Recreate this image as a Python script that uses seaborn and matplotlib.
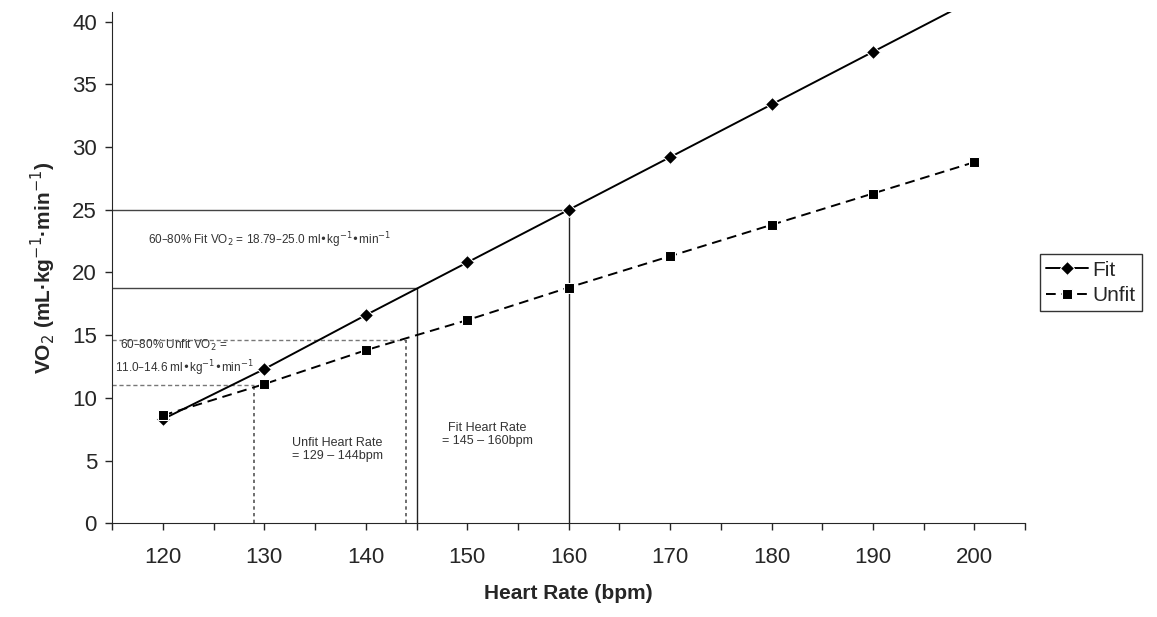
import pandas as pd
import numpy as np
import matplotlib
matplotlib.use('Agg')
import matplotlib.pyplot as plt
import seaborn as sns
from matplotlib.ticker import MultipleLocator

# values
heart_rate = [120, 130, 140, 150, 160, 170, 180, 190, 200]
vo2_fit = [8.3, 12.3, 16.6, 20.8, 25.0, 29.2, 33.4, 37.6, 41.8]
vo2_unfit = [8.6, 11.1, 13.8, 16.2, 18.8, 21.3, 23.8, 26.3, 28.8]

# training zones (60-80%)
fit_hr = [145, 160]
fit_vo2 = [18.79, 25.0]
unfit_hr = [129, 144]
unfit_vo2 = [11.0, 14.6]

df = pd.DataFrame({
    'Heart Rate': heart_rate * 2,
    'VO2': vo2_fit + vo2_unfit,
    'Group': ['Fit'] * len(heart_rate) + ['Unfit'] * len(heart_rate),
})

sns.set_style('ticks')
plt.rcParams['font.family'] = ['Liberation Sans', 'DejaVu Sans']

fig = plt.figure(figsize=(11.57, 6.17), dpi=100)
ax = fig.add_axes([0.097, 0.152, 0.789, 0.829])

sns.lineplot(data=df, x='Heart Rate', y='VO2', hue='Group', style='Group',
             palette={'Fit': 'black', 'Unfit': 'black'},
             dashes={'Fit': '', 'Unfit': (5, 3)},
             markers={'Fit': 'D', 'Unfit': 's'},
             markersize=7, linewidth=1.4, ax=ax, zorder=3)

# fit zone guides (solid)
for hr, v in zip(fit_hr, fit_vo2):
    ax.plot([115, hr], [v, v], color='#444444', lw=1.0, zorder=2)
    ax.plot([hr, hr], [0, v], color='#222222', lw=1.0, zorder=2)
# unfit zone guides (dashed)
for hr, v in zip(unfit_hr, unfit_vo2):
    ax.plot([115, hr], [v, v], color='#777777', lw=1.0, ls=(0, (3, 2)), zorder=2)
    ax.plot([hr, hr], [0, v], color='#555555', lw=1.2, ls=(0, (2, 2)), zorder=2)

ax.text(118.5, 22.6, '60–80% Fit VO$_2$ = 18.79–25.0 ml•kg$^{-1}$•min$^{-1}$',
        fontsize=8.5, color='#333333', va='center')
ax.text(115.8, 14.2, '60–80% Unfit VO$_2$ =', fontsize=8.5, color='#333333', va='center')
ax.text(115.3, 12.4, '11.0–14.6 ml•kg$^{-1}$•min$^{-1}$', fontsize=8.5, color='#333333', va='center')
ax.text(137.2, 5.9, 'Unfit Heart Rate\n= 129 – 144bpm', fontsize=9, color='#333333',
        ha='center', va='center', linespacing=1.1)
ax.text(152.0, 7.1, 'Fit Heart Rate\n= 145 – 160bpm', fontsize=9, color='#333333',
        ha='center', va='center', linespacing=1.1)

ax.set_xlim(115, 205)
ax.set_ylim(0, 40.8)
ax.xaxis.set_minor_locator(MultipleLocator(5))
ax.set_xticks(range(120, 201, 10))
ax.yaxis.set_major_locator(MultipleLocator(5))
ax.tick_params(axis='both', labelsize=16, direction='out', length=5, width=1, pad=12)
ax.tick_params(axis='x', which='minor', length=5, width=1)
ax.tick_params(axis='y', pad=6)
ax.set_xlabel('Heart Rate (bpm)', fontsize=15, fontweight='bold', labelpad=12)
ax.set_ylabel('VO$_2$ (mL·kg$^{-1}$·min$^{-1}$)', fontsize=15, fontweight='bold', labelpad=10)
sns.despine(ax=ax)

leg = ax.legend(loc='center left', bbox_to_anchor=(1.005, 0.47), fontsize=15,
                frameon=True, fancybox=False, edgecolor='black', handlelength=2.0,
                borderpad=0.3, labelspacing=0.3, handletextpad=0.2)
leg.get_frame().set_linewidth(1.0)

fig.savefig('out.png', dpi=100)
